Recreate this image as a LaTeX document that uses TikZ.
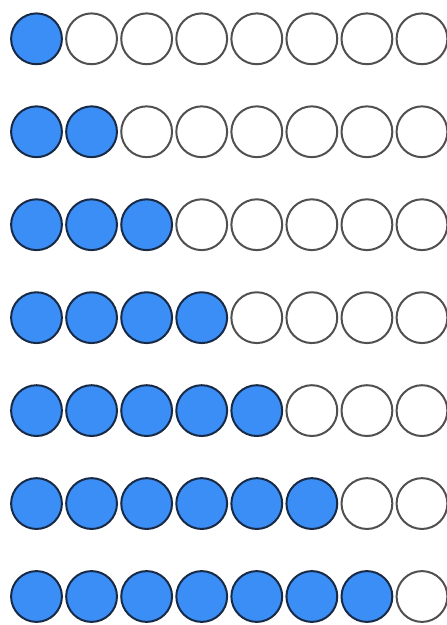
\documentclass[tikz,border=0pt]{standalone}
\definecolor{fillblue}{RGB}{58,142,245}
\definecolor{darkedge}{RGB}{24,42,70}
\definecolor{grayedge}{RGB}{80,80,80}
\tikzset{
  dot/.style={circle, inner sep=0pt, minimum size=50.8pt, line width=2pt},
  ondot/.style={dot, draw=darkedge, fill=fillblue},
  offdot/.style={dot, draw=grayedge, fill=white}
}
\begin{document}
\begin{tikzpicture}[x=1pt,y=-1pt]
\useasboundingbox (0,0) rectangle (447,625);
\fill[white] (0,0) rectangle (447,625);
\foreach \r in {1,...,7}{
  \foreach \c in {1,...,8}{
    \pgfmathsetmacro{\xx}{36.5+55.07*(\c-1)}
    \pgfmathsetmacro{\yy}{38.8+92.95*(\r-1)}
    \ifnum\c>\r
      \node[offdot] (c-\r-\c) at (\xx,\yy) {};
    \else
      \node[ondot] (c-\r-\c) at (\xx,\yy) {};
    \fi
  }
}
\end{tikzpicture}
\end{document}
